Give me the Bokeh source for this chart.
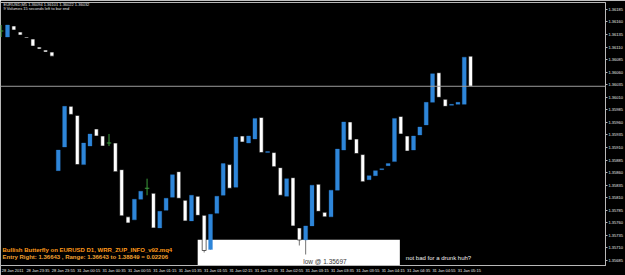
from bokeh.plotting import figure
from bokeh.models import (ColumnDataSource, FixedTicker, PrintfTickFormatter, Range1d,
                          Span, BoxAnnotation, Label, CustomJSTickFormatter)
from bokeh.embed import file_html
from bokeh.resources import INLINE

# ---------------- data (EURUSD M5) ----------------
bar_index = list(range(-9, 66))
opens = [1.36142, 1.36130, 1.36152, 1.36140, 1.36130, 1.36126, 1.36110, 1.36104, 1.36100,
         1.35864, 1.35911, 1.35992, 1.35974, 1.35876, 1.35913, 1.35947, 1.35933, 1.35919,
         1.35919, 1.35866, 1.35772, 1.35766, 1.35807, 1.35829, 1.35819, 1.35750, 1.35785,
         1.35811, 1.35862, 1.35805, 1.35764, 1.35813, 1.35775, 1.35707, 1.35779, 1.35815,
         1.35876, 1.35831, 1.35933, 1.35919, 1.35927, 1.35970, 1.35900, 1.35900, 1.35870,
         1.35813, 1.35850, 1.35750, 1.35726, 1.35754, 1.35837, 1.35781, 1.35772, 1.35825,
         1.35905, 1.35961, 1.35927, 1.35896, 1.35846, 1.35854, 1.35866, 1.35874, 1.35882,
         1.35972, 1.35933, 1.35905, 1.35935, 1.35955, 1.36000, 1.36059, 1.36006, 1.35994,
         1.35996, 1.35996, 1.36092]
closes = [1.36142, 1.36154, 1.36144, 1.36134, 1.36128, 1.36112, 1.36106, 1.36100, 1.36092,
          1.35905, 1.35992, 1.35976, 1.35876, 1.35919, 1.35937, 1.35933, 1.35913, 1.35919,
          1.35862, 1.35774, 1.35760, 1.35807, 1.35823, 1.35829, 1.35750, 1.35783, 1.35809,
          1.35856, 1.35809, 1.35764, 1.35815, 1.35775, 1.35705, 1.35777, 1.35813, 1.35878,
          1.35829, 1.35931, 1.35921, 1.35933, 1.35968, 1.35900, 1.35902, 1.35872, 1.35815,
          1.35848, 1.35754, 1.35726, 1.35754, 1.35835, 1.35783, 1.35772, 1.35825, 1.35907,
          1.35961, 1.35925, 1.35898, 1.35842, 1.35854, 1.35864, 1.35868, 1.35878, 1.35968,
          1.35937, 1.35903, 1.35933, 1.35951, 1.36000, 1.36057, 1.36010, 1.35992, 1.35996,
          1.36000, 1.36090, 1.36032]
highs = [1.36154, 1.36154, 1.36152, 1.36140, 1.36130, 1.36126, 1.36110, 1.36104, 1.36100,
         1.35905, 1.35992, 1.35992, 1.35974, 1.35919, 1.35937, 1.35947, 1.35933, 1.35937,
         1.35919, 1.35866, 1.35772, 1.35807, 1.35823, 1.35848, 1.35819, 1.35783, 1.35809,
         1.35856, 1.35862, 1.35805, 1.35815, 1.35813, 1.35775, 1.35777, 1.35813, 1.35878,
         1.35876, 1.35931, 1.35933, 1.35933, 1.35968, 1.35970, 1.35902, 1.35900, 1.35870,
         1.35848, 1.35850, 1.35750, 1.35754, 1.35835, 1.35837, 1.35781, 1.35825, 1.35907,
         1.35961, 1.35961, 1.35927, 1.35896, 1.35854, 1.35864, 1.35868, 1.35878, 1.35968,
         1.35972, 1.35933, 1.35933, 1.35951, 1.36000, 1.36057, 1.36059, 1.36006, 1.35996,
         1.36000, 1.36090, 1.36092]
lows = [1.36130, 1.36130, 1.36144, 1.36134, 1.36128, 1.36112, 1.36106, 1.36100, 1.36092,
        1.35864, 1.35911, 1.35976, 1.35876, 1.35876, 1.35913, 1.35933, 1.35913, 1.35913,
        1.35862, 1.35774, 1.35760, 1.35766, 1.35807, 1.35815, 1.35750, 1.35750, 1.35785,
        1.35811, 1.35809, 1.35764, 1.35764, 1.35775, 1.35701, 1.35707, 1.35779, 1.35815,
        1.35829, 1.35831, 1.35921, 1.35919, 1.35927, 1.35900, 1.35900, 1.35872, 1.35815,
        1.35813, 1.35754, 1.35715, 1.35697, 1.35754, 1.35783, 1.35772, 1.35772, 1.35825,
        1.35905, 1.35925, 1.35898, 1.35842, 1.35846, 1.35854, 1.35866, 1.35874, 1.35882,
        1.35937, 1.35903, 1.35905, 1.35935, 1.35955, 1.36000, 1.36010, 1.35992, 1.35994,
        1.35996, 1.35996, 1.36032]

price_ticks = [1.36185, 1.36160, 1.36135, 1.36110, 1.36085, 1.36060, 1.36035, 1.36010,
               1.35985, 1.35960, 1.35935, 1.35910, 1.35885, 1.35860, 1.35835, 1.35810,
               1.35785, 1.35760, 1.35735, 1.35710, 1.35685]
time_tick_bars = [-9, -5, -1, 3, 7, 11, 15, 19, 23, 27, 31, 35, 39, 43, 47, 51, 55, 59, 63]
time_tick_labels = ["28 Jan 2011", "28 Jan 23:35", "28 Jan 23:55", "31 Jan 00:15",
                    "31 Jan 00:35", "31 Jan 00:55", "31 Jan 01:15", "31 Jan 01:35",
                    "31 Jan 01:55", "31 Jan 02:15", "31 Jan 02:35", "31 Jan 02:55",
                    "31 Jan 03:15", "31 Jan 03:35", "31 Jan 03:55", "31 Jan 04:15",
                    "31 Jan 04:35", "31 Jan 04:55", "31 Jan 05:15"]
bid_price = 1.36032
low_price = 1.35697

# ---------------- geometry helpers (screen layout of the MT4 window) ----------------
BAR_PX = 6.37          # pixels per bar
BAR0_PX = 58.0         # pixel x of bar 0
PX_PER_PRICE = 50800.0 # pixels per 1.0 of price
TICK0_PY = 9.0         # pixel y of the first price tick
FRAME_W = 607.5
FRAME_TOP = 2.0
FRAME_BOTTOM = 268.0


def px2x(px):
    return (px - BAR0_PX) / BAR_PX


def py2y(py):
    return price_ticks[0] - (py - TICK0_PY) / PX_PER_PRICE


bull = [i for i in range(len(opens)) if closes[i] > opens[i]]
bear = [i for i in range(len(opens)) if closes[i] < opens[i]]
doji = [i for i in range(len(opens)) if closes[i] == opens[i]]


def sub(idx):
    return ColumnDataSource(dict(
        x=[bar_index[i] for i in idx],
        top=[max(opens[i], closes[i]) for i in idx],
        bottom=[min(opens[i], closes[i]) for i in idx],
        high=[highs[i] for i in idx],
        low=[lows[i] for i in idx],
        close=[closes[i] for i in idx],
    ))


src_all = sub(list(range(len(opens))))
src_bull, src_bear, src_doji = sub(bull), sub(bear), sub(doji)

p = figure(width=625, height=275, output_backend="svg", toolbar_location=None,
           x_range=Range1d(px2x(0), px2x(FRAME_W)),
           y_range=Range1d(py2y(FRAME_BOTTOM), py2y(FRAME_TOP)),
           y_axis_location="right", min_border_left=0, min_border_top=int(FRAME_TOP),
           min_border_right=0, min_border_bottom=0)
p.background_fill_color = "black"
p.border_fill_color = "black"
p.outline_line_color = "#b8b8b8"
p.grid.visible = False

AXFONT = "Liberation Sans"
# right price axis
p.yaxis.ticker = FixedTicker(ticks=price_ticks)
p.yaxis.formatter = PrintfTickFormatter(format="%.5f")
p.yaxis.major_label_text_font_size = "4px"
p.yaxis.major_label_text_font = AXFONT
p.yaxis.major_label_text_color = "#e8e8e8"
p.yaxis.major_tick_in = 0
p.yaxis.major_tick_out = 2
p.yaxis.major_label_standoff = 1
p.yaxis.minor_tick_line_color = None
p.yaxis.axis_line_color = "#b8b8b8"
p.yaxis.major_tick_line_color = "#b8b8b8"

# bottom time axis (labels start at their bar, as in MT4)
LABEL_SHIFT = 1.8
shifted = [b + LABEL_SHIFT for b in time_tick_bars]
p.xaxis.ticker = FixedTicker(ticks=shifted)
p.xaxis.formatter = CustomJSTickFormatter(args=dict(pos=shifted, labs=time_tick_labels), code="""
    for (let j = 0; j < pos.length; j++) { if (Math.abs(pos[j] - tick) < 1e-6) return labs[j]; }
    return '';
""")
p.xaxis.major_label_text_font_size = "4px"
p.xaxis.major_label_text_font = AXFONT
p.xaxis.major_label_text_color = "#e8e8e8"
p.xaxis.major_tick_line_color = None
p.xaxis.major_tick_in = 0
p.xaxis.major_tick_out = 1
p.xaxis.minor_tick_line_color = None
p.xaxis.minor_tick_out = 0
p.xaxis.major_label_standoff = 1
p.xaxis.axis_line_color = "#b8b8b8"

# white info rectangle
p.add_layout(BoxAnnotation(left=px2x(198), right=px2x(401), top=py2y(242),
                           fill_color="white", fill_alpha=1.0, line_color=None,
                           level="underlay"))

# bid line
p.add_layout(Span(location=bid_price, dimension="width", line_color="#9c9c9c", line_width=1))

# wicks (dark, only visible on the white box), doji in green
p.segment(x0="x", x1="x", y0="low", y1="high", source=src_all, line_color="black",
          line_alpha=0.55, line_width=1)
p.vbar(x="x", top="top", bottom="bottom", width=0.62, source=src_bull,
       fill_color="#2e86d9", line_color="#2e86d9", line_width=0.3)
p.vbar(x="x", top="top", bottom="bottom", width=0.62, source=src_bear,
       fill_color="white", line_color="black", line_width=0.6)
p.segment(x0="x", x1="x", y0="low", y1="high", source=src_doji, line_color="#3c9c3c",
          line_width=1)
p.rect(x="x", y="close", width=0.7, height=1, height_units="screen", source=src_doji,
       fill_color="#3c9c3c", line_color=None)

# texts
FONT = "Liberation Sans"
p.add_layout(Label(x=px2x(3), y=py2y(4.5), text="EURUSD,M5  1.36094 1.36101 1.36022 1.36032",
                   text_font_size="4px", text_color="#e0e0e0", text_baseline="middle",
                   text_font=FONT))
p.add_layout(Label(x=px2x(3), y=py2y(8.5), text="9 Volumes 15 seconds left to bar end",
                   text_font_size="4px", text_color="#e0e0e0", text_baseline="middle",
                   text_font=FONT))
p.add_layout(Label(x=px2x(2), y=py2y(252.5),
                   text="Bullish Butterfly on EURUSD D1,  WRR_ZUP_INFO_v92.mq4",
                   text_font_size="6px", text_font_style="bold", text_color="#ff9a1a",
                   text_baseline="middle", text_font=FONT))
p.add_layout(Label(x=px2x(2), y=py2y(259.5),
                   text="Entry Right: 1.36643 ,  Range: 1.36643 to 1.38849 = 0.02206",
                   text_font_size="6px", text_font_style="bold", text_color="#f0a030",
                   text_baseline="middle", text_font=FONT))
p.add_layout(Label(x=px2x(304), y=py2y(263.5), text="low @ " + f"{low_price:.5f}",
                   text_font_size="6.5px", text_color="#3a3a3a", text_baseline="middle",
                   text_font=FONT))
p.add_layout(Label(x=px2x(407), y=py2y(260.5), text="not bad for a drunk huh?",
                   text_font_size="6px", text_color="#f0f0f0", text_baseline="middle",
                   text_font=FONT))
p.add_layout(Label(x=px2x(FRAME_W + 1), y=bid_price, text=f"{bid_price:.5f}",
                   text_font_size="4px", text_color="black", text_baseline="middle",
                   background_fill_color="#d0d0d0", text_font=FONT))

open("out.html", "w").write(file_html(p, INLINE))
